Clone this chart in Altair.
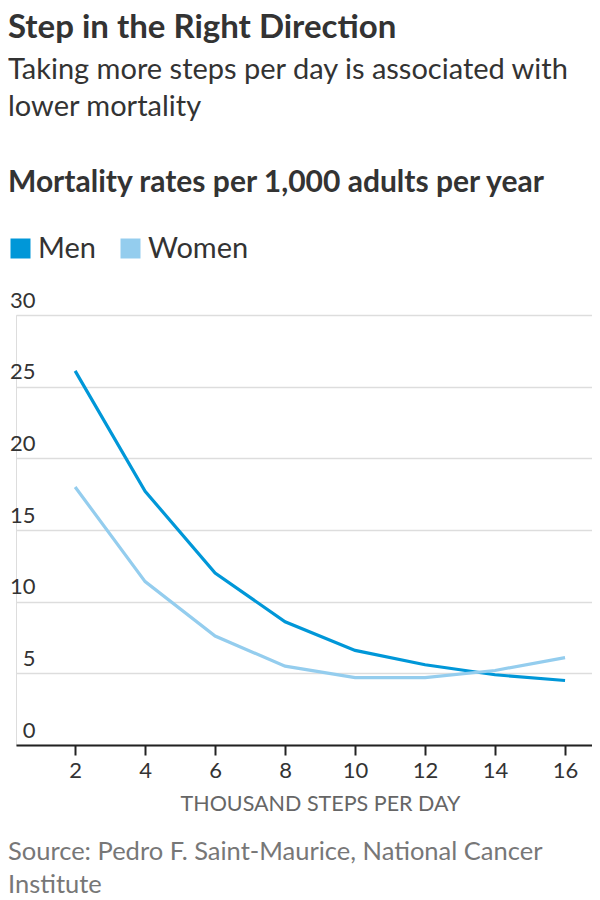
import altair as alt
import pandas as pd

steps = [2, 4, 6, 8, 10, 12, 14, 16]
men = [26.1, 17.7, 12.0, 8.6, 6.6, 5.6, 4.9, 4.5]
women = [18.0, 11.4, 7.6, 5.5, 4.7, 4.7, 5.2, 6.1]
series = ["Men", "Women"]
colors = ["#0097d8", "#94cdee"]

title = "Step in the Right Direction"
subtitle = ["Taking more steps per day is associated with", "lower mortality"]
heading = "Mortality rates per 1,000 adults per year"
x_title = "THOUSAND STEPS PER DAY"
source = ["Source: Pedro F. Saint-Maurice, National Cancer", "Institute"]

FONT = "Lato"
W, H = 576, 430

df = pd.DataFrame(
    {"steps": steps * 2,
     "rate": men + women,
     "sex": ["Men"] * len(steps) + ["Women"] * len(steps)}
)

lines = alt.Chart(df).mark_line(strokeWidth=3.2).encode(
    x=alt.X("steps:Q",
            scale=alt.Scale(domain=[0.31, 16.77], nice=False, zero=False),
            axis=alt.Axis(values=steps, title=x_title, grid=False,
                          domainColor="#222", domainWidth=2,
                          tickColor="#222", tickWidth=2, tickSize=10,
                          labelFontSize=22, labelColor="#333", labelPadding=5,
                          labelFont=FONT,
                          titleFont=FONT, titleFontSize=21.5, titleFontWeight="normal",
                          titleColor="#666", titlePadding=12,
                          titleX=304, titleAlign="center")),
    y=alt.Y("rate:Q",
            scale=alt.Scale(domain=[0, 30], nice=False),
            axis=alt.Axis(values=[0, 5, 10, 15, 20, 25, 30], title=None,
                          domain=False, ticks=False, gridColor="#dddddd",
                          gridWidth=1.5, labelAlign="right", labelBaseline="bottom",
                          labelPadding=-19, labelOffset=-3,
                          labelFont=FONT, labelFontSize=22, labelColor="#333")),
    color=alt.Color("sex:N",
                    scale=alt.Scale(domain=series, range=colors),
                    legend=alt.Legend(title=None, orient="none", legendX=-10, legendY=-81,
                                      direction="horizontal", symbolType="square",
                                      symbolSize=81, symbolStrokeWidth=11,
                                      symbolOpacity=1, padding=0,
                                      labelFont=FONT, labelFontSize=29,
                                      labelColor="#333", labelOffset=3,
                                      columnPadding=8)),
)

def text_layer(texts, ys, size, weight, color):
    d = pd.DataFrame({"t": texts, "y": ys})
    return alt.Chart(d).mark_text(
        align="left", baseline="middle", font=FONT, fontSize=size,
        fontWeight=weight, color=color,
    ).encode(x=alt.value(-8), y=alt.Y("y:Q", scale=None), text="t:N")

title_layer = text_layer([title], [-287], 33, "bold", "#333")
sub_layer = text_layer(subtitle, [-245, -208], 29, "normal", "#333")
head_layer = text_layer([heading], [-132], 30, "bold", "#333")
src_layer = text_layer(source, [537, 570], 25.5, "normal", "#777")

chart = alt.layer(lines, title_layer, sub_layer, head_layer, src_layer).properties(
    width=W, height=H,
    autosize=alt.AutoSizeParams(type="none"),
    padding={"top": 307, "left": 8, "right": 0, "bottom": 170},
).configure_view(stroke=None).configure(background="white")

chart.save("out.html", embed_options={"renderer": "svg", "actions": False})
